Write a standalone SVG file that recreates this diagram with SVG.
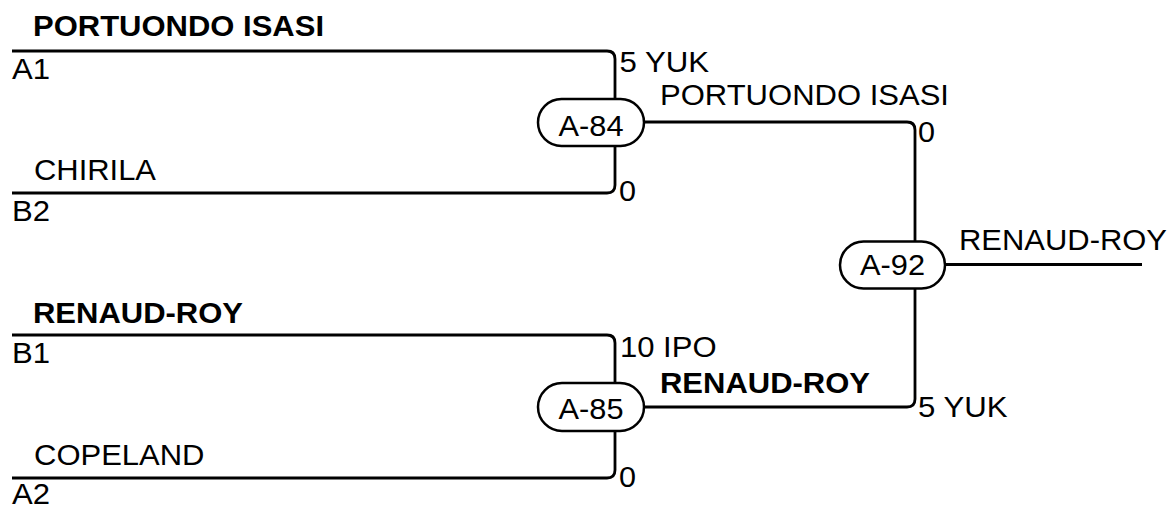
<svg xmlns="http://www.w3.org/2000/svg" width="1173" height="508" viewBox="0 0 1173 508">
<style>
.ln{fill:none;stroke:#000;stroke-width:2.8;stroke-linejoin:round}
.nd{fill:#fff;stroke:#000;stroke-width:2.5}
text{font-family:"Liberation Sans",Arial,sans-serif;font-size:29px;fill:#000}
.b{font-weight:bold}
.c{text-anchor:middle}
</style>
<rect width="1173" height="508" fill="#fff"/>
<g id="connectors">
<path class="ln" d="M12,51 H607 Q615,51 615,59 V185 Q615,193 607,193 H12"/>
<path class="ln" d="M12,335 H607 Q615,335 615,343 V470 Q615,478 607,478 H12"/>
<path class="ln" d="M644,122 H907 Q915,122 915,130 V399 Q915,407 907,407 H644"/>
<path class="ln" d="M945,264.5 H1142"/>
</g>
<g id="labels">
<text class="b" x="33" y="36" textLength="291" lengthAdjust="spacingAndGlyphs">PORTUONDO ISASI</text>
<text x="12" y="79" textLength="38" lengthAdjust="spacingAndGlyphs">A1</text>
<text x="34" y="180" textLength="122" lengthAdjust="spacingAndGlyphs">CHIRILA</text>
<text x="12" y="221" textLength="38" lengthAdjust="spacingAndGlyphs">B2</text>
<text x="619.5" y="71.5" textLength="89.6" lengthAdjust="spacingAndGlyphs">5 YUK</text>
<text x="619" y="201" textLength="17" lengthAdjust="spacingAndGlyphs">0</text>
<text x="660" y="105" textLength="289" lengthAdjust="spacingAndGlyphs">PORTUONDO ISASI</text>
<text x="918" y="142" textLength="17" lengthAdjust="spacingAndGlyphs">0</text>
<text x="959" y="250" textLength="208" lengthAdjust="spacingAndGlyphs">RENAUD-ROY</text>
<text class="b" x="33" y="323" textLength="210" lengthAdjust="spacingAndGlyphs">RENAUD-ROY</text>
<text x="12" y="363" textLength="38" lengthAdjust="spacingAndGlyphs">B1</text>
<text x="34" y="465" textLength="170.5" lengthAdjust="spacingAndGlyphs">COPELAND</text>
<text x="12" y="504" textLength="38" lengthAdjust="spacingAndGlyphs">A2</text>
<text x="620" y="357" textLength="96.5" lengthAdjust="spacingAndGlyphs">10 IPO</text>
<text class="b" x="660" y="393" textLength="210" lengthAdjust="spacingAndGlyphs">RENAUD-ROY</text>
<text x="918" y="417" textLength="89.6" lengthAdjust="spacingAndGlyphs">5 YUK</text>
<text x="619" y="487" textLength="17" lengthAdjust="spacingAndGlyphs">0</text>
</g>
<g id="node-A-84">
<rect class="nd" x="538" y="99" width="106" height="47" rx="23.5"/>
<text class="c" x="591" y="136" textLength="65" lengthAdjust="spacingAndGlyphs">A-84</text>
</g>
<g id="node-A-92">
<rect class="nd" x="840" y="241.5" width="105" height="47" rx="23.5"/>
<text class="c" x="892.5" y="275" textLength="65" lengthAdjust="spacingAndGlyphs">A-92</text>
</g>
<g id="node-A-85">
<rect class="nd" x="538" y="383" width="106" height="48" rx="24"/>
<text class="c" x="591" y="419" textLength="65" lengthAdjust="spacingAndGlyphs">A-85</text>
</g>
</svg>
